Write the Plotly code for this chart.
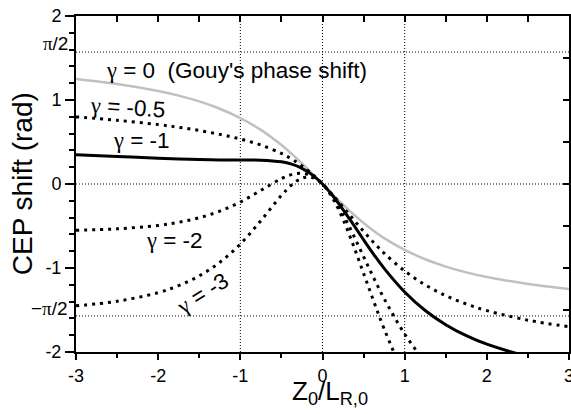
import plotly.graph_objects as go

# Z0/LR,0 sample positions
z = [-3, -2.5, -2, -1.75, -1.5, -1.25, -1, -0.75, -0.5, -0.375, -0.25, -0.125, 0,
     0.125, 0.25, 0.375, 0.5, 0.625, 0.75, 1, 1.25, 1.5, 1.75, 2, 2.5, 3]

# CEP shift (rad)
g_0 = [1.249, 1.190, 1.107, 1.052, 0.983, 0.896, 0.785, 0.644, 0.464, 0.359, 0.245, 0.124, 0,
       -0.124, -0.245, -0.359, -0.464, -0.559, -0.644, -0.785, -0.896, -0.983, -1.052, -1.107, -1.190, -1.249]
g_m05 = [0.799, 0.759, 0.707, 0.675, 0.637, 0.591, 0.535, 0.464, 0.364, 0.297, 0.216, 0.116, 0,
         -0.132, -0.274, -0.420, -0.564, -0.699, -0.824, -1.035, -1.201, -1.329, -1.429, -1.507, -1.621, -1.699]
g_m1 = [0.349, 0.328, 0.307, 0.298, 0.291, 0.286, 0.285, 0.284, 0.264, 0.236, 0.186, 0.109, 0,
        -0.140, -0.304, -0.482, -0.664, -0.840, -1.004, -1.285, -1.506, -1.675, -1.806, -1.907, -2.052, -2.149]
g_m2 = [-0.551, -0.534, -0.493, -0.456, -0.402, -0.324, -0.215, -0.076, 0.064, 0.112, 0.127, 0.093, 0,
        -0.155, -0.363, -0.605, -0.864, -1.120, -1.364, -1.785, -2.116, -2.368, -2.56, -2.707, -2.914, -3.049]
g_m3 = [-1.451, -1.396, -1.293, -1.209, -1.094, -0.933, -0.715, -0.436, -0.136, -0.011, 0.069, 0.078, 0,
        -0.170, -0.421, -0.729, -1.064, -1.401, -1.724, -2.285, -2.725, -3.06, -3.313, -3.507, -3.776, -3.949]

grid_x = [-1, 0, 1]
grid_y = [-1.5708, 0, 1.5708]

x_ticks = [-3, -2, -1, 0, 1, 2, 3]
y_ticks = [-2, -1, 0, 1, 2]

SANS = "Liberation Sans, Arial, sans-serif"
G = '<span style="font-family:Liberation Serif">γ</span>'

fig = go.Figure()

dotted = "3px,5px"
fig.add_trace(go.Scatter(x=z, y=g_0, mode="lines", line=dict(color="#c0c0c0", width=2.5, shape="spline"), showlegend=False))
fig.add_trace(go.Scatter(x=z, y=g_m05, mode="lines", line=dict(color="black", width=3, dash=dotted, shape="spline"), showlegend=False))
fig.add_trace(go.Scatter(x=z, y=g_m1, mode="lines", line=dict(color="black", width=3, shape="spline"), showlegend=False))
fig.add_trace(go.Scatter(x=z, y=g_m2, mode="lines", line=dict(color="black", width=3, dash=dotted, shape="spline"), showlegend=False))
fig.add_trace(go.Scatter(x=z, y=g_m3, mode="lines", line=dict(color="black", width=3, dash=dotted, shape="spline"), showlegend=False))
# invisible trace for mirrored top/right axes
fig.add_trace(go.Scatter(x=[-3], y=[-2], xaxis="x2", yaxis="y2", mode="markers",
                         marker=dict(opacity=0), showlegend=False, hoverinfo="skip"))

shapes = []
for gx in grid_x:
    shapes.append(dict(type="line", xref="x", yref="paper", x0=gx, x1=gx, y0=0, y1=1,
                       line=dict(color="black", width=1, dash="1px,2px"), layer="below"))
for gy in grid_y:
    shapes.append(dict(type="line", xref="paper", yref="y", x0=0, x1=1, y0=gy, y1=gy,
                       line=dict(color="black", width=1, dash="1px,2px"), layer="below"))

ann = []
def lab(text, x, y, xanchor="left", angle=0):
    ann.append(dict(text=text, x=x, y=y, xref="x", yref="y", xanchor=xanchor, yanchor="middle",
                    showarrow=False, textangle=angle, font=dict(family=SANS, size=22.5, color="black")))

lab(G + " = 0\u00a0\u00a0(Gouy's phase shift)", -2.66, 1.35)
lab(G + " = -0.5", -2.86, 0.91, angle=4)
lab(G + " = -1", -2.57, 0.52)
lab(G + " = -2", -2.17, -0.67)
lab(G + " = -3", -1.46, -1.30, xanchor="center", angle=-32)

# pi/2 tick labels
for sign, yv in [("", 1.67), ("\u2212", -1.485)]:
    ann.append(dict(text=sign + '<span style="font-family:Liberation Serif">π</span>/2',
                    x=-0.012, y=yv, xref="paper", yref="y", xanchor="right", yanchor="middle",
                    showarrow=False, font=dict(family=SANS, size=19, color="black")))

# axis titles
ann.append(dict(text="CEP shift (rad)", x=-0.109, y=0.5, xref="paper", yref="paper", textangle=-90,
                xanchor="center", yanchor="middle", showarrow=False,
                font=dict(family=SANS, size=28, color="black")))
ann.append(dict(text="Z<sub>0</sub>/L<sub>R,0</sub>",
                x=0.516, y=-0.122, xref="paper", yref="paper",
                xanchor="center", yanchor="middle", showarrow=False,
                font=dict(family=SANS, size=26, color="black")))

fig.update_layout(
    width=571, height=414,
    margin=dict(l=76, r=2, t=16, b=62),
    plot_bgcolor="white", paper_bgcolor="white",
    shapes=shapes, annotations=ann,
    xaxis=dict(range=[-3, 3], tickvals=x_ticks, ticktext=[str(v) for v in x_ticks], automargin=False,
               ticks="outside", ticklen=6, tickwidth=1.5, tickcolor="black", ticklabeloverflow="allow",
               minor=dict(dtick=0.5, tick0=0, ticks="outside", ticklen=4, tickwidth=1.5, tickcolor="black"),
               showline=True, linecolor="black", linewidth=2, showgrid=False, zeroline=False,
               tickfont=dict(family=SANS, size=18, color="black")),
    yaxis=dict(range=[-2, 2], tickvals=y_ticks, ticktext=[str(v) for v in y_ticks], automargin=False,
               ticks="outside", ticklen=9, tickwidth=1.5, tickcolor="black",
               minor=dict(dtick=0.2, tick0=0, ticks="outside", ticklen=5, tickwidth=1.5, tickcolor="black"),
               showline=True, linecolor="black", linewidth=2, showgrid=False, zeroline=False,
               tickfont=dict(family=SANS, size=18, color="black")),
    xaxis2=dict(range=[-3, 3], overlaying="x", side="top", dtick=0.5, tick0=0, ticks="inside", ticklen=6,
                tickwidth=1.5, tickcolor="black", showticklabels=False, showline=True, linecolor="black",
                linewidth=2, showgrid=False, zeroline=False, automargin=False),
    yaxis2=dict(range=[-2, 2], overlaying="y", side="right", dtick=0.5, tick0=0, ticks="inside", ticklen=6,
                tickwidth=1.5, tickcolor="black", showticklabels=False, showline=True, linecolor="black",
                linewidth=2, showgrid=False, zeroline=False, automargin=False),
)

fig.write_html("out.html")
